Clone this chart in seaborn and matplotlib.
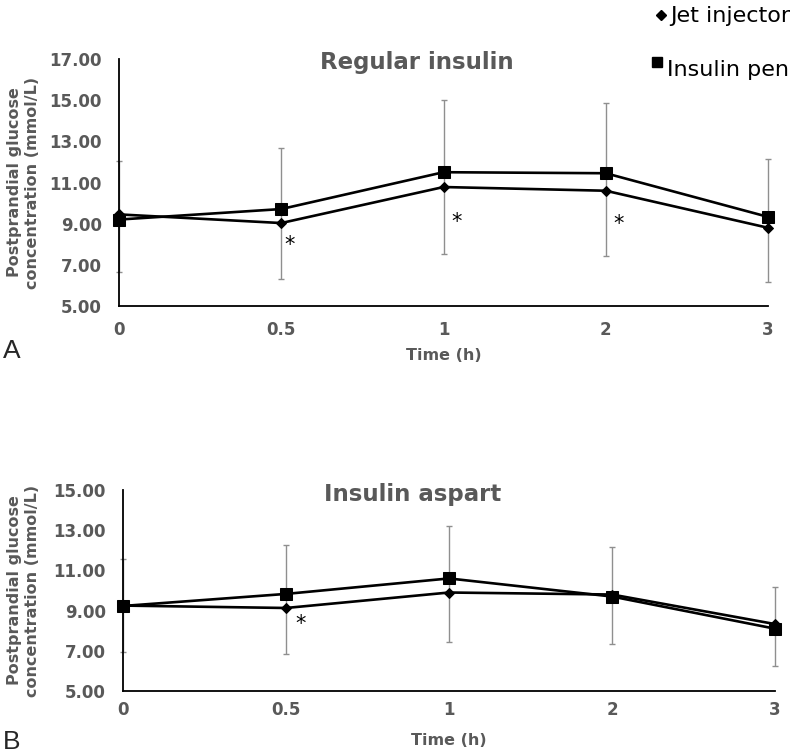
import numpy as np
import pandas as pd
import seaborn as sns
import matplotlib.pyplot as plt
from matplotlib.lines import Line2D

# time points (categorical, evenly spaced on the axis)
times = ['0', '0.5', '1', '2', '3']

# panel A - regular insulin
a_jet = [9.45, 9.03, 10.78, 10.60, 8.80]
a_pen = [9.20, 9.71, 11.50, 11.45, 9.33]
a_err_low = [6.65, 6.30, 7.52, 7.43, 6.17]
a_err_high = [12.05, 12.67, 15.00, 14.85, 12.13]
a_star_x = [1.05, 2.08, 3.08]
a_star_y = [8.30, 9.42, 9.28]

# panel B - insulin aspart
b_jet = [9.25, 9.13, 9.90, 9.80, 8.33]
b_pen = [9.23, 9.83, 10.60, 9.70, 8.10]
b_err_low = [6.95, 6.84, 7.44, 7.34, 6.24]
b_err_high = [11.57, 12.26, 13.20, 12.16, 10.17]
b_star_x = [1.09]
b_star_y = [8.68]

GREY = '#595959'
ERR = '#8f8f8f'

sns.set_style('white')
plt.rcParams['font.family'] = ['DejaVu Sans']


def draw_panel(ax, jet, pen, err_low, err_high, star_x, star_y, ymax, xpad):
    pos = np.arange(len(times))
    lo = np.array(err_low)
    hi = np.array(err_high)
    mid = (lo + hi) / 2
    eb = ax.errorbar(pos, mid, yerr=[mid - lo, hi - mid], fmt='none', ecolor=ERR,
                     elinewidth=1.0, capsize=2.5, capthick=1.0, zorder=1)
    for art in eb.lines[1] + eb.lines[2]:
        art.set_clip_on(False)

    df_jet = pd.DataFrame({'pos': pos, 'value': jet})
    df_pen = pd.DataFrame({'pos': pos, 'value': pen})
    sns.lineplot(data=df_pen, x='pos', y='value', ax=ax, color='black', lw=1.9,
                 marker='s', markersize=8, markeredgecolor='black', zorder=3)
    sns.lineplot(data=df_jet, x='pos', y='value', ax=ax, color='black', lw=1.9,
                 marker='D', markersize=5.5, markeredgecolor='black', zorder=3)
    for line in ax.lines:
        line.set_clip_on(False)

    for sx, sy in zip(star_x, star_y):
        ax.annotate('*', (sx, sy), xytext=(0, -9), textcoords='offset points',
                    ha='center', va='baseline', fontsize=15, color='black')

    ax.set_xlim(0, 4)
    ax.set_ylim(5, ymax)
    ax.set_xticks(pos, times)
    yt = np.arange(5, ymax + 0.1, 2)
    ax.set_yticks(yt, [f'{v:.2f}' for v in yt])
    ax.tick_params(axis='y', direction='out', length=3.5, width=1.2, pad=9,
                   labelsize=12, labelcolor=GREY, color='black')
    ax.tick_params(axis='x', direction='inout', length=8, width=1.2, pad=xpad,
                   labelsize=12, labelcolor=GREY, color='black')
    for lab in ax.get_xticklabels() + ax.get_yticklabels():
        lab.set_fontweight('bold')
    sns.despine(ax=ax)
    for sp in ['left', 'bottom']:
        ax.spines[sp].set_color('black')
        ax.spines[sp].set_linewidth(1.3)
        ax.spines[sp].set_zorder(2.5)
    ax.set_xlabel('Time (h)', fontsize=11.5, fontweight='bold', color=GREY)
    ax.set_ylabel('Postprandial glucose\nconcentration (mmol/L)', fontsize=11.5,
                  fontweight='bold', color=GREY, linespacing=1.25)


fig = plt.figure(figsize=(8, 7.55), dpi=100)
W, H = 800, 755

ax_a = fig.add_axes([119 / W, 1 - 306 / H, (768 - 119) / W, (306 - 59) / H])
ax_b = fig.add_axes([123 / W, 1 - 691 / H, (775 - 123) / W, (691 - 490) / H])

draw_panel(ax_a, a_jet, a_pen, a_err_low, a_err_high, a_star_x, a_star_y, 17, 7)
draw_panel(ax_b, b_jet, b_pen, b_err_low, b_err_high, b_star_x, b_star_y, 15, 3)

ax_a.xaxis.set_label_coords(0.5, (306 - 348) / 247)
ax_b.xaxis.set_label_coords(0.5, (691 - 733) / 201)
ax_a.yaxis.set_label_coords((40 - 119) / 649, 0.5)
ax_b.yaxis.set_label_coords((40 - 123) / 652, 0.5)

fig.text(417 / W, 1 - 63 / H, 'Regular insulin', ha='center', va='center',
         fontsize=16.5, fontweight='bold', color=GREY)
fig.text(413 / W, 1 - 495 / H, 'Insulin aspart', ha='center', va='center',
         fontsize=16.5, fontweight='bold', color=GREY)

fig.text(12 / W, 1 - 351 / H, 'A', ha='center', va='center', fontsize=19,
         family=['Liberation Sans', 'DejaVu Sans'])
fig.text(12 / W, 1 - 742 / H, 'B', ha='center', va='center', fontsize=19,
         family=['Liberation Sans', 'DejaVu Sans'])

# legend, top right
fig.add_artist(Line2D([661 / W], [1 - 15 / H], transform=fig.transFigure,
                      marker='D', markersize=5.5, color='black', linestyle='none'))
fig.add_artist(Line2D([657 / W], [1 - 62 / H], transform=fig.transFigure,
                      marker='s', markersize=7, color='black', linestyle='none'))
fig.text(670 / W, 1 - 16 / H, 'Jet injector', ha='left', va='center',
         fontsize=16, color='black')
fig.text(667 / W, 1 - 70 / H, 'Insulin pen', ha='left', va='center',
         fontsize=16, color='black')

fig.savefig('out.png', dpi=100)
